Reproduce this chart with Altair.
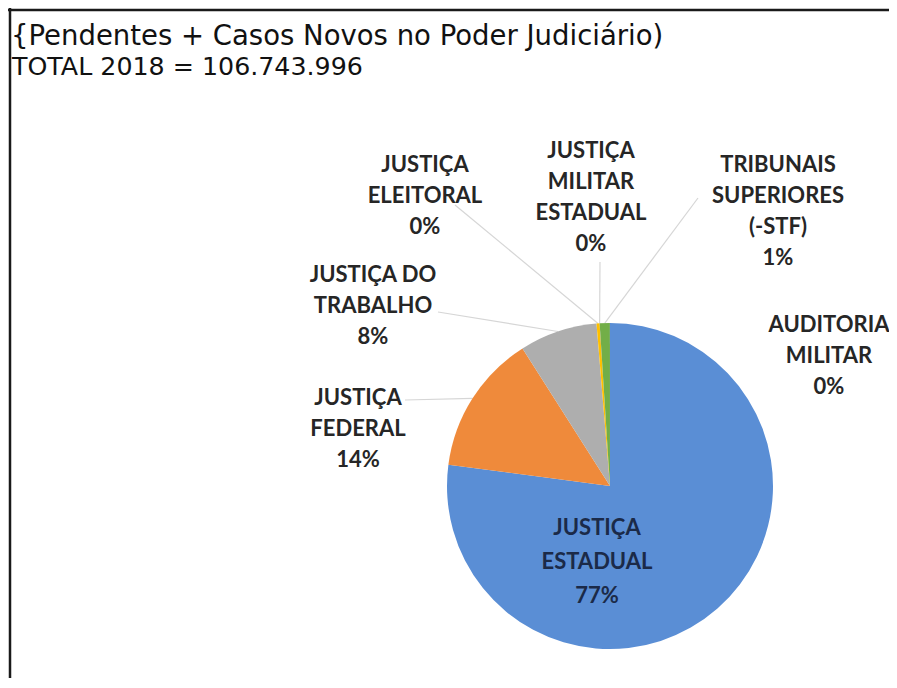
import math
import altair as alt
import pandas as pd

# ---------------- data ----------------
categories = [
    "JUSTIÇA ESTADUAL",
    "JUSTIÇA FEDERAL",
    "JUSTIÇA DO TRABALHO",
    "JUSTIÇA ELEITORAL",
    "JUSTIÇA MILITAR ESTADUAL",
    "TRIBUNAIS SUPERIORES (-STF)",
    "AUDITORIA MILITAR",
]
label_names = [
    "JUSTIÇA\nESTADUAL",
    "JUSTIÇA\nFEDERAL",
    "JUSTIÇA DO\nTRABALHO",
    "JUSTIÇA\nELEITORAL",
    "JUSTIÇA\nMILITAR\nESTADUAL",
    "TRIBUNAIS\nSUPERIORES\n(-STF)",
    "AUDITORIA\nMILITAR",
]
shares = [77.1, 13.9, 7.7, 0.3, 0.01, 1.0, 0.01]  # % of total (estimated)
colors = ["#5A8ED5", "#EF8A3B", "#AEAEAE", "#FFC000", "#4472C4", "#72AE48", "#255E91"]
title_line1 = "{Pendentes + Casos Novos no Poder Judiciário)"
title_line2 = "TOTAL 2018 = 106.743.996"

# ---------------- layout ----------------
W, H = 881, 670
CX, CY = 602, 478          # pie centre inside the chart (px)
R = 163                    # pie radius (px)

# label block anchor (centre x, first baseline) relative to pie centre, y down
label_anchor = {
    "JUSTIÇA ESTADUAL": (-13, 49),
    "JUSTIÇA FEDERAL": (-252, -81),
    "JUSTIÇA DO TRABALHO": (-237, -204),
    "JUSTIÇA ELEITORAL": (-185, -314),
    "JUSTIÇA MILITAR ESTADUAL": (-19, -328),
    "TRIBUNAIS SUPERIORES (-STF)": (168, -314),
    "AUDITORIA MILITAR": (219, -154),
}
# label end of the leader line, relative to pie centre, y down
leader_end = {
    "JUSTIÇA FEDERAL": (-205, -86),
    "JUSTIÇA DO TRABALHO": (-172, -174),
    "JUSTIÇA ELEITORAL": (-155, -281),
    "JUSTIÇA MILITAR ESTADUAL": (-10, -224),
    "TRIBUNAIS SUPERIORES (-STF)": (88, -288),
}

total = sum(shares)
pie_rows, label_rows, leader_rows = [], [], []
cum = 0.0
for i, (cat, name, v) in enumerate(zip(categories, label_names, shares)):
    mid = (cum + v / 2) / total
    cum += v
    ang = mid * 2 * math.pi
    ex, ey = R * math.sin(ang), R * math.cos(ang)  # y up
    pct = round(v / total * 100)
    pie_rows.append({"cat": cat, "value": v, "idx": i})
    ax, ay = label_anchor[cat]
    label_rows.append({
        "cat": cat,
        "text": f"{name}\n{pct}%",
        "lx": ax, "ly": -ay,
        "inside": cat == "JUSTIÇA ESTADUAL",
    })
    if cat in leader_end:
        lx, ly = leader_end[cat]
        leader_rows.append({"x": lx, "y": -ly, "x2": ex, "y2": ey})

pie_df = pd.DataFrame(pie_rows)
lab_df = pd.DataFrame(label_rows)
lead_df = pd.DataFrame(leader_rows)
dummy = pd.DataFrame({"a": [0]})

xs = alt.Scale(domain=[-CX, W - CX], range=[0, W], nice=False, zero=False)
ys = alt.Scale(domain=[-(H - CY), CY], range=[H, 0], nice=False, zero=False)

leaders = alt.Chart(lead_df).mark_rule(color="#D6D6D6", strokeWidth=1.2).encode(
    x=alt.X("x:Q", scale=xs, axis=None),
    y=alt.Y("y:Q", scale=ys, axis=None),
    x2="x2:Q",
    y2="y2:Q",
)

pie = alt.Chart(pie_df).mark_arc(radius=R, strokeWidth=0).encode(
    theta=alt.Theta("value:Q", stack=True),
    color=alt.Color("cat:N", scale=alt.Scale(domain=categories, range=colors), legend=None),
    order=alt.Order("idx:Q"),
    x=alt.value(CX),
    y=alt.value(CY),
)

outside = alt.Chart(lab_df).transform_filter("!datum.inside").mark_text(
    font="Lato", fontWeight="bold", fontSize=22, lineBreak="\n", lineHeight=31,
    align="center", baseline="alphabetic", color="#262626",
).encode(
    x=alt.X("lx:Q", scale=xs, axis=None),
    y=alt.Y("ly:Q", scale=ys, axis=None),
    text="text:N",
)

inside = alt.Chart(lab_df).transform_filter("datum.inside").mark_text(
    font="Lato", fontWeight="bold", fontSize=22, lineBreak="\n", lineHeight=34,
    align="center", baseline="alphabetic", color="#1B2A48",
).encode(
    x=alt.X("lx:Q", scale=xs, axis=None),
    y=alt.Y("ly:Q", scale=ys, axis=None),
    text="text:N",
)

title1 = alt.Chart(dummy).mark_text(
    text=title_line1, font="DejaVu Sans", fontSize=27.5,
    align="left", baseline="alphabetic", color="#111111",
).encode(x=alt.value(3), y=alt.value(37))

title2 = alt.Chart(dummy).mark_text(
    text=title_line2, font="DejaVu Sans", fontSize=25.3,
    align="left", baseline="alphabetic", color="#111111",
).encode(x=alt.value(4), y=alt.value(67))

border_top = alt.Chart(dummy).mark_rule(color="#1a1a1a", strokeWidth=2.5).encode(
    x=alt.value(0), x2=alt.value(W), y=alt.value(2)
)
border_left = alt.Chart(dummy).mark_rule(color="#1a1a1a", strokeWidth=2.5).encode(
    x=alt.value(2), y=alt.value(0), y2=alt.value(H)
)

chart = alt.layer(
    leaders, pie, outside, inside, title1, title2, border_top, border_left
).properties(
    width=W, height=H, padding=0, autosize=alt.AutoSizeParams(type="none"),
    background="white",
).configure_view(stroke=None)

chart.save("out.html", embed_options={"renderer": "svg", "actions": False})
